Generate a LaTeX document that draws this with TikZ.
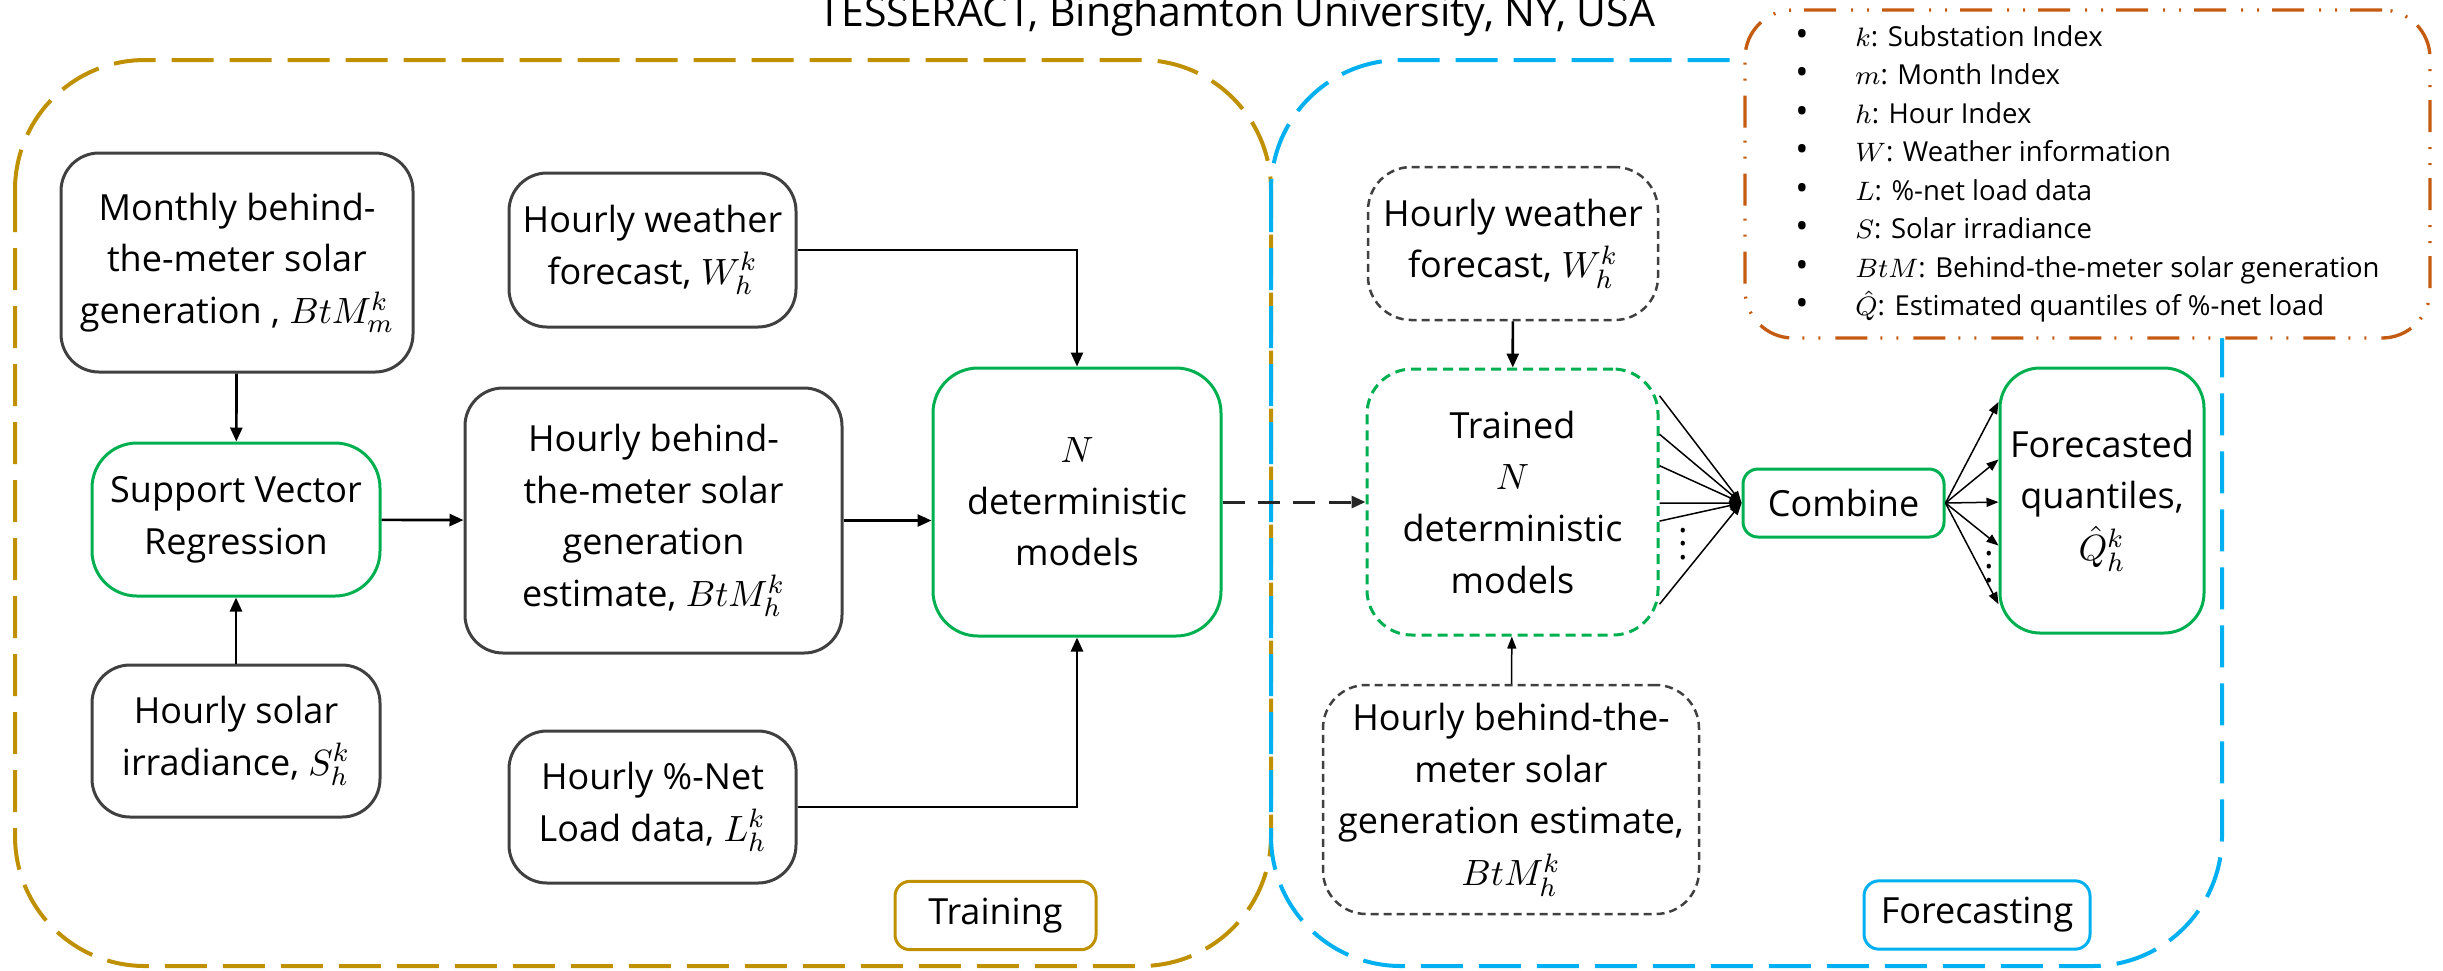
\documentclass[tikz,border=0pt]{standalone}
\usepackage{fontspec}
\setmainfont{Open Sans}
\usepackage{xcolor}
\usetikzlibrary{arrows.meta,calc}

\definecolor{trainclr}{HTML}{BF9000}
\definecolor{forecastclr}{HTML}{00B0F0}
\definecolor{modelclr}{HTML}{00B050}
\definecolor{legendclr}{HTML}{C55A11}
\definecolor{boxclr}{HTML}{404040}

\newcommand{\legbullet}{\makebox[18pt][l]{\fontsize{10.5}{10.5}\selectfont\textbullet}}

\begin{document}
\begin{tikzpicture}[x=0.3pt, y=-0.3pt,
      every node/.style = {align=center, inner sep=0pt,
        font=\fontsize{10.8}{15.5}\selectfont},
      databox/.style = {draw=boxclr, line width=0.9pt, rounded corners=11.4pt},
      dashbox/.style = {draw=boxclr, line width=0.75pt, rounded corners=13pt,
        dash pattern=on 2.4pt off 1.5pt},
      modelbox/.style = {draw=modelclr, line width=0.9pt, rounded corners=13.5pt},
      region/.style = {line width=1.2pt, rounded corners=39pt,
        dash pattern=on 12.6pt off 4.8pt},
      tag/.style = {line width=0.9pt, rounded corners=4.5pt,
        minimum width=#1, minimum height=20.5pt},
      arrow/.style = {-{Triangle[length=4.2pt,width=3.6pt]}, line width=0.8pt},
      fan/.style = {-{Triangle[length=3.6pt,width=2.7pt]}, line width=0.45pt}]
  \useasboundingbox (0,0) rectangle (2443,970);

  % the two stages
  \draw[region, trainclr] (15,60) rectangle (1271,966);
  \draw[region, forecastclr] (1271,60) rectangle (2222,966);
  \node (title) [anchor=base west, font=\fontsize{12.3}{14}\selectfont]
    at (818,26) {TESSERACT, Binghamton University, NY, USA};

  % training
  \node (monthly) [databox, minimum width=105.6pt, minimum height=65.7pt] at (237,262.5)
    {Monthly behind-\\the-meter solar\\generation , $BtM_m^k$};
  \node (weather) [databox, minimum width=86.1pt, minimum height=46.2pt] at (652.5,250)
    {Hourly weather\\forecast, $W_h^k$};
  \node (svr) [modelbox, minimum width=86.4pt, minimum height=45.9pt] at (236,519.5)
    {Support Vector\\Regression};
  \node (irradiance) [databox, minimum width=86.4pt, minimum height=45.6pt] at (236,741)
    {Hourly solar\\irradiance, $S_h^k$};
  \node (btm) [databox, minimum width=113.1pt, minimum height=79.5pt] at (653.5,520.5)
    {Hourly behind-\\the-meter solar\\generation\\estimate, $BtM_h^k$};
  \node (netload) [databox, minimum width=86.1pt, minimum height=45.6pt] at (652.5,807)
    {Hourly \%-Net\\Load data, $L_h^k$};
  \node (models) [modelbox, minimum width=86.4pt, minimum height=80.4pt] at (1077,502)
    {$N$\\deterministic\\models};
  \node (training) [tag=60.3pt, draw=trainclr, fill=white] at (995.5,915.5) {Training};

  \draw[arrow] (monthly) -- (svr);
  \draw[arrow] (irradiance) -- (svr);
  \draw[arrow] (svr) -- (btm);
  \draw[arrow] (btm.east) -- (btm.east -| models.west);
  \draw[arrow] (weather.east) -| (models.north);
  \draw[arrow] (netload.east) -| (models.south);

  % forecasting
  \node (fweather) [dashbox, minimum width=87pt, minimum height=45.9pt] at (1513,243.5)
    {Hourly weather\\forecast, $W_h^k$};
  \node (trained) [modelbox, dash pattern=on 3pt off 1.8pt, minimum width=87.3pt,
    minimum height=79.8pt] at (1512.5,502)
    {Trained\\$N$\\deterministic\\models};
  \node (fbtm) [dashbox, minimum width=112.8pt, minimum height=68.7pt] at (1511,799.5)
    {Hourly behind-the-\\meter solar\\generation estimate,\\$BtM_h^k$};
  \node (combine) [modelbox, rounded corners=4.5pt, minimum width=60.3pt,
    minimum height=20.4pt] at (1843.5,503) {Combine};
  \node (quantiles) [modelbox, rounded corners=12pt, minimum width=61.2pt,
    minimum height=79.5pt] at (2102,500.5)
    {Forecasted\\quantiles,\\$\hat{Q}_h^k$};
  \node (forecasting) [tag=67.8pt, draw=forecastclr, fill=white] at (1977,915)
    {Forecasting};
  \node (dotsin) at (1683,534) {$\vdots$};
  \node (dotsout) at (1989,557) {$\vdots$};

  \draw[arrow, black!85, line width=0.9pt, dash pattern=on 6.6pt off 4pt] (models) -- (trained);
  \draw[arrow] (fweather) -- (trained);
  \draw[fan] (fbtm) -- (trained);
  \foreach \t in {0.105,0.248,0.365,0.504,0.571,0.88}
    \draw[fan] ($(trained.north east)!\t!(trained.south east)$) -- (combine.west);
  \foreach \t in {0.132,0.347,0.506,0.668,0.887}
    \draw[fan] (combine.east) -- ($(quantiles.north west)!\t!(quantiles.south west)$);

  % notation
  \node (legend) [draw=legendclr, fill=white, line width=1pt, rounded corners=14.4pt,
    dash pattern=on 9.6pt off 3.9pt on 0.6pt off 4.2pt on 0.6pt off 4.5pt,
    minimum width=205.5pt, minimum height=98.4pt, align=left,
    font=\fontsize{8.25}{11.55}\selectfont] at (2087.5,174)
    {\legbullet$k$: Substation Index\\
     \legbullet$m$: Month Index\\
     \legbullet$h$: Hour Index\\
     \legbullet$W$: Weather information\\
     \legbullet$L$: \%-net load data\\
     \legbullet$S$: Solar irradiance\\
     \legbullet$BtM$: Behind-the-meter solar generation\\
     \legbullet$\hat{Q}$: Estimated quantiles of \%-net load};
\end{tikzpicture}
\end{document}
